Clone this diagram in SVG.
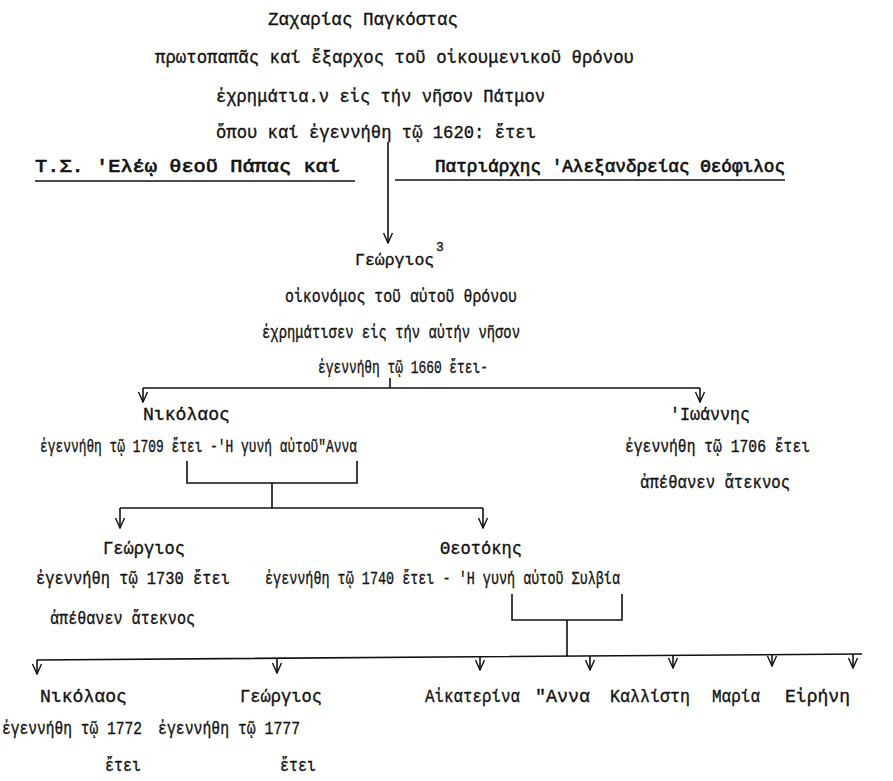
<svg xmlns="http://www.w3.org/2000/svg" width="893" height="781" viewBox="0 0 893 781">
<defs>
<marker id="v" viewBox="0 0 12 12" refX="11" refY="6" markerWidth="12" markerHeight="12" markerUnits="userSpaceOnUse" orient="auto">
<path d="M1,1.5 L11,6 L1,10.5" fill="none" stroke="#111" stroke-width="1.4"/>
</marker>
<style>
.t{font-family:"Liberation Mono","DejaVu Sans Mono",monospace;font-size:18px;fill:#111;stroke:#111;stroke-width:0.35}
.h{stroke-width:0.7}
.c{fill:none;stroke:#111;stroke-width:1.6}
.a{marker-end:url(#v)}
</style>
</defs>
<rect width="893" height="781" fill="#fff"/>
<g id="zacharias">
<text class="t" x="268" y="25" textLength="190" lengthAdjust="spacingAndGlyphs">Ζαχαρίας Παγκόστας</text>
<text class="t" x="155" y="63" textLength="479" lengthAdjust="spacingAndGlyphs">πρωτοπαπᾶς καί ἔξαρχος τοῦ οἰκουμενικοῦ θρόνου</text>
<text class="t" x="216" y="102" textLength="329" lengthAdjust="spacingAndGlyphs">ἐχρημάτια.ν εἰς τήν νῆσον Πάτμον</text>
<text class="t" x="216" y="138" textLength="320" lengthAdjust="spacingAndGlyphs">ὅπου καί ἐγεννήθη τῷ 1620: ἔτει</text>
</g>
<g id="header">
<text class="t h" x="35" y="172" textLength="305" lengthAdjust="spacingAndGlyphs">Τ.Σ. 'Ελέῳ θεοῦ Πάπας καί</text>
<text class="t h" x="435" y="172" textLength="350" lengthAdjust="spacingAndGlyphs">Πατριάρχης 'Αλεξανδρείας Θεόφιλος</text>
<path class="c" d="M35,181 H355 M395,180 H785" stroke-width="2"/>
</g>
<g id="georgios1">
<text class="t" x="355" y="265" font-size="16" style="font-size:16.5px">Γεώργιος<tspan x="436" y="251" style="font-size:13px">3</tspan></text>
<text class="t" x="285" y="302" textLength="232" lengthAdjust="spacingAndGlyphs">οἰκονόμος τοῦ αὐτοῦ θρόνου</text>
<text class="t" x="262" y="338" textLength="258" lengthAdjust="spacingAndGlyphs">ἐχρημάτισεν εἰς τήν αὐτήν νῆσον</text>
<text class="t" x="318" y="373" textLength="170" lengthAdjust="spacingAndGlyphs">ἐγεννήθη τῷ 1660 ἔτει-</text>
</g>
<g id="nikolaos1">
<text class="t" x="143" y="420" textLength="87" lengthAdjust="spacingAndGlyphs">Νικόλαος</text>
<text class="t" x="40" y="452" textLength="317" lengthAdjust="spacingAndGlyphs">ἐγεννήθη τῷ 1709 ἔτει -'Η γυνή αὐτοῦ"Αννα</text>
</g>
<g id="ioannis">
<text class="t" x="670" y="420" textLength="80" lengthAdjust="spacingAndGlyphs">'Ιωάννης</text>
<text class="t" x="625" y="452" textLength="185" lengthAdjust="spacingAndGlyphs">ἐγεννήθη τῷ 1706 ἔτει</text>
<text class="t" x="640" y="488" textLength="150" lengthAdjust="spacingAndGlyphs">ἀπέθανεν ἄτεκνος</text>
</g>
<g id="georgios2">
<text class="t" x="103" y="554" textLength="82" lengthAdjust="spacingAndGlyphs">Γεώργιος</text>
<text class="t" x="36" y="584" textLength="194" lengthAdjust="spacingAndGlyphs">ἐγεννήθη τῷ 1730 ἔτει</text>
<text class="t" x="50" y="624" textLength="145" lengthAdjust="spacingAndGlyphs">ἀπέθανεν ἄτεκνος</text>
</g>
<g id="theotokis">
<text class="t" x="440" y="554" textLength="82" lengthAdjust="spacingAndGlyphs">Θεοτόκης</text>
<text class="t" x="265" y="584" textLength="355" lengthAdjust="spacingAndGlyphs">ἐγεννήθη τῷ 1740 ἔτει - 'Η γυνή αὐτοῦ Συλβία</text>
</g>
<g id="nikolaos2">
<text class="t" x="40" y="702" textLength="87" lengthAdjust="spacingAndGlyphs">Νικόλαος</text>
<text class="t" x="2" y="734" textLength="140" lengthAdjust="spacingAndGlyphs">ἐγεννήθη τῷ 1772</text>
<text class="t" x="105" y="771" textLength="36" lengthAdjust="spacingAndGlyphs">ἔτει</text>
</g>
<g id="georgios3">
<text class="t" x="240" y="702" textLength="82" lengthAdjust="spacingAndGlyphs">Γεώργιος</text>
<text class="t" x="158" y="734" textLength="142" lengthAdjust="spacingAndGlyphs">ἐγεννήθη τῷ 1777</text>
<text class="t" x="280" y="771" textLength="36" lengthAdjust="spacingAndGlyphs">ἔτει</text>
</g>
<g id="aikaterina"><text class="t" x="425" y="702" textLength="95" lengthAdjust="spacingAndGlyphs">Αἰκατερίνα</text></g>
<g id="anna"><text class="t" x="535" y="702" textLength="55" lengthAdjust="spacingAndGlyphs">"Αννα</text></g>
<g id="kallisti"><text class="t" x="610" y="702" textLength="80" lengthAdjust="spacingAndGlyphs">Καλλίστη</text></g>
<g id="maria"><text class="t" x="712" y="702" textLength="48" lengthAdjust="spacingAndGlyphs">Μαρία</text></g>
<g id="eirini"><text class="t" x="785" y="702" textLength="65" lengthAdjust="spacingAndGlyphs">Εἰρήνη</text></g>
<g id="connectors">
<path class="c a" d="M388,142 V243"/>
<path class="c" d="M390,378 V388 M143,388 H700"/>
<path class="c a" d="M143,388 V402"/>
<path class="c a" d="M700,388 V402"/>
<path class="c" d="M187,461 V483 H357 V461 M272,483 V508 M120,508 H483"/>
<path class="c a" d="M120,508 V528"/>
<path class="c a" d="M483,508 V528"/>
<path class="c" d="M512,594 V620 H622 V594 M567,620 V656 M37,660 L862,654"/>
<path class="c a" d="M37,660 V674"/>
<path class="c a" d="M277,658 V673"/>
<path class="c a" d="M480,657 V670"/>
<path class="c a" d="M590,656 V670"/>
<path class="c a" d="M673,655 V668"/>
<path class="c a" d="M772,655 V666"/>
<path class="c a" d="M853,654 V668"/>
</g>
</svg>
